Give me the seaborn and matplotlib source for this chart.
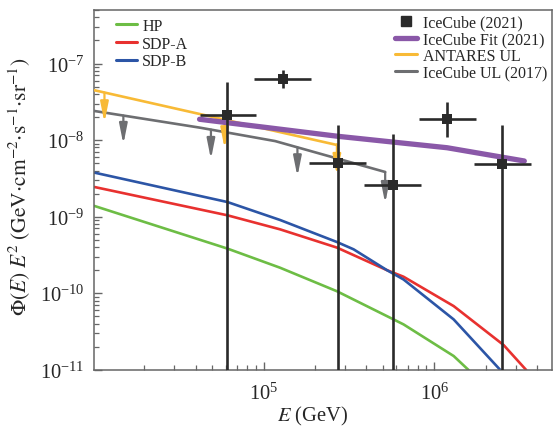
import numpy as np
import pandas as pd
import matplotlib
matplotlib.use("Agg")
import matplotlib.pyplot as plt
from matplotlib.lines import Line2D
import seaborn as sns

# ---------------- data ----------------
hp_E = [1.02e4, 6.15e4, 1.25e5, 2.69e5, 6.61e5, 1.30e6, 1.59e6]
hp_F = [1.38e-9, 3.82e-10, 2.15e-10, 1.06e-10, 3.91e-11, 1.51e-11, 9.9e-12]

sdpa_E = [1.02e4, 6.15e4, 1.25e5, 2.69e5, 5.28e5, 6.61e5, 1.30e6, 2.55e6, 3.46e6]
sdpa_F = [2.44e-9, 1.04e-9, 6.82e-10, 3.94e-10, 2.00e-10, 1.64e-10, 6.78e-11, 2.10e-11, 9.9e-12]

sdpb_E = [1.02e4, 6.15e4, 1.25e5, 2.69e5, 3.37e5, 5.28e5, 6.61e5, 1.30e6, 2.44e6]
sdpb_F = [3.76e-9, 1.55e-9, 9.04e-10, 4.66e-10, 3.74e-10, 2.00e-10, 1.51e-10, 4.54e-11, 9.9e-12]

fit_E = [4.22e4, 2.73e5, 1.19e6, 3.37e6]
fit_F = [1.87e-8, 1.12e-8, 7.94e-9, 5.33e-9]

ant_E = [1.02e4, 2.69e5]
ant_F = [4.48e-8, 8.63e-9]
ant_arrow_E = [1.17e4, 5.92e4, 2.69e5]
ant_arrow_top = [4.18e-8, 1.86e-8, 8.81e-9]
ant_arrow_tip = [1.69e-8, 7.74e-9, 3.47e-9]

ul17_E = [1.02e4, 4.26e4, 1.17e5, 5.16e5]
ul17_F = [2.40e-8, 1.45e-8, 9.7e-9, 3.83e-9]
ul17_arrow_E = [1.51e4, 4.92e4, 1.58e5, 5.16e5]
ul17_arrow_top = [2.09e-8, 1.37e-8, 8.05e-9, 3.83e-9]
ul17_arrow_tip = [8.81e-9, 5.61e-9, 3.33e-9, 1.49e-9]

ic_E = [6.15e4, 1.30e5, 2.73e5, 5.72e5, 1.19e6, 2.51e6]
ic_F = [2.13e-8, 6.37e-8, 5.08e-9, 2.62e-9, 1.87e-8, 4.83e-9]
ic_E_lo = [4.22e4, 8.83e4, 1.85e5, 3.89e5, 8.13e5, 1.71e6]
ic_E_hi = [9.06e4, 1.90e5, 3.98e5, 8.36e5, 1.75e6, 3.68e6]
ic_F_lo = [1e-12, 4.85e-8, 1e-12, 1e-12, 1.10e-8, 1e-12]
ic_F_hi = [5.75e-8, 8.17e-8, 1.56e-8, 1.19e-8, 3.15e-8, 1.56e-8]

x_major_ticks = [1e5, 1e6]
y_major_ticks = [1e-11, 1e-10, 1e-9, 1e-8, 1e-7]

# ---------------- style ----------------
sns.set_theme(style="white")
plt.rcParams['font.family'] = ['Liberation Serif', 'DejaVu Serif']
plt.rcParams['mathtext.fontset'] = 'stix'

C_GREEN = '#6dbd45'
C_RED = '#e8312f'
C_BLUE = '#2c55a6'
C_PURPLE = '#8a58a8'
C_YELLOW = '#f8ba36'
C_GREY = '#6d6e71'
C_BLACK = '#2a2a2a'
C_SPINE = '#666666'

fig = plt.figure(figsize=(5.53, 4.27), dpi=100)
ax = fig.add_axes([0.1705, 0.1318, 0.998 - 0.1705, 0.9742 - 0.1318])
ax.set_xscale('log')
ax.set_yscale('log')

def df(E, F):
    return pd.DataFrame({'E': E, 'F': F})

sns.lineplot(data=df(hp_E, hp_F), x='E', y='F', ax=ax, color=C_GREEN, lw=1.9,
             estimator=None, sort=False, zorder=2, legend=False)
sns.lineplot(data=df(sdpa_E, sdpa_F), x='E', y='F', ax=ax, color=C_RED, lw=1.9,
             estimator=None, sort=False, zorder=2, legend=False)
sns.lineplot(data=df(sdpb_E, sdpb_F), x='E', y='F', ax=ax, color=C_BLUE, lw=1.9,
             estimator=None, sort=False, zorder=2, legend=False)

sns.lineplot(data=df(ul17_E, ul17_F), x='E', y='F', ax=ax, color=C_GREY, lw=1.9,
             estimator=None, sort=False, zorder=3, legend=False)
sns.lineplot(data=df(ant_E, ant_F), x='E', y='F', ax=ax, color=C_YELLOW, lw=1.9,
             estimator=None, sort=False, zorder=3, legend=False)
sns.lineplot(data=df(fit_E, fit_F), x='E', y='F', ax=ax, color=C_PURPLE, lw=3.8,
             estimator=None, sort=False, zorder=4, legend=False)

for E, top, tip in zip(ul17_arrow_E, ul17_arrow_top, ul17_arrow_tip):
    ax.annotate('', xy=(E, tip), xytext=(E, top),
                arrowprops=dict(arrowstyle='-|>,head_length=0.8,head_width=0.16',
                                color=C_GREY, lw=1.6, mutation_scale=15,
                                shrinkA=0, shrinkB=0), zorder=3)
for E, top, tip in zip(ant_arrow_E, ant_arrow_top, ant_arrow_tip):
    ax.annotate('', xy=(E, tip), xytext=(E, top),
                arrowprops=dict(arrowstyle='-|>,head_length=0.8,head_width=0.16',
                                color=C_YELLOW, lw=1.6, mutation_scale=15,
                                shrinkA=0, shrinkB=0), zorder=3)

ic_E_a = np.array(ic_E); ic_F_a = np.array(ic_F)
xerr = [ic_E_a - np.array(ic_E_lo), np.array(ic_E_hi) - ic_E_a]
yerr = [ic_F_a - np.array(ic_F_lo), np.array(ic_F_hi) - ic_F_a]
ax.errorbar(ic_E, ic_F, xerr=xerr, yerr=yerr, fmt='none', ecolor=C_BLACK,
            elinewidth=1.9, capsize=0, zorder=5)
sns.scatterplot(data=df(ic_E, ic_F), x='E', y='F', ax=ax, marker='s', s=60,
                color=C_BLACK, edgecolor=C_BLACK, linewidth=0, zorder=6, legend=False)

ax.set_xlim(1.02e4, 4.89e6)
ax.set_ylim(1e-11, 5e-7)

for sp in ax.spines.values():
    sp.set_color(C_SPINE)
    sp.set_linewidth(1.1)

ax.set_xticks(x_major_ticks)
ax.set_yticks(y_major_ticks)
ax.xaxis.set_major_formatter(matplotlib.ticker.LogFormatterSciNotation())
ax.yaxis.set_major_formatter(matplotlib.ticker.LogFormatterSciNotation())
ax.xaxis.set_minor_locator(matplotlib.ticker.LogLocator(base=10, subs=np.arange(2, 10), numticks=20))
ax.yaxis.set_minor_locator(matplotlib.ticker.LogLocator(base=10, subs=np.arange(2, 10), numticks=20))
ax.yaxis.set_minor_formatter(matplotlib.ticker.NullFormatter())
ax.xaxis.set_minor_formatter(matplotlib.ticker.NullFormatter())

ax.tick_params(which='both', direction='in', color=C_SPINE, top=False, right=False,
               labelsize=14.8)
ax.tick_params(axis='x', pad=9.5)
ax.tick_params(axis='y', pad=7)
ax.tick_params(which='major', length=6, width=1.0, left=True, bottom=True)
ax.tick_params(which='minor', length=3.5, width=0.9, left=True, bottom=True)

ax.set_xlabel(r'$E$ (GeV)', fontsize=14.8)
ax.set_ylabel(r'$\Phi(E)\;E^2\;(\mathrm{GeV{\cdot}cm^{-2}{\cdot}s^{-1}{\cdot}sr^{-1}})$',
              fontsize=15.5)
ax.xaxis.set_label_coords(0.478, -0.094)
ax.yaxis.set_label_coords(-0.134, 0.513)

# left legend (models)
h_models = [Line2D([], [], color=c, lw=2.2) for c in (C_GREEN, C_RED, C_BLUE)]
leg1 = ax.legend(h_models, ['HP', 'SDP-A', 'SDP-B'], loc='upper left',
                 bbox_to_anchor=(0.03, 1.0), frameon=False, fontsize=11.5,
                 handlelength=1.3, handletextpad=0.35, labelspacing=0.1,
                 borderpad=0.3, borderaxespad=0.2)
ax.add_artist(leg1)

h_obs = [Line2D([], [], color=C_BLACK, marker='s', ms=7, lw=0),
         Line2D([], [], color=C_PURPLE, lw=3.8),
         Line2D([], [], color=C_YELLOW, lw=2.2),
         Line2D([], [], color=C_GREY, lw=2.2)]
ax.legend(h_obs, ['IceCube (2021)', 'IceCube Fit (2021)', 'ANTARES UL', 'IceCube UL (2017)'],
          loc='upper right', bbox_to_anchor=(1.0, 1.0), frameon=False, fontsize=11.5,
          handlelength=1.4, handletextpad=0.35, labelspacing=0.04,
          borderpad=0.3, borderaxespad=0.0)

fig.savefig('out.png', dpi=100)
